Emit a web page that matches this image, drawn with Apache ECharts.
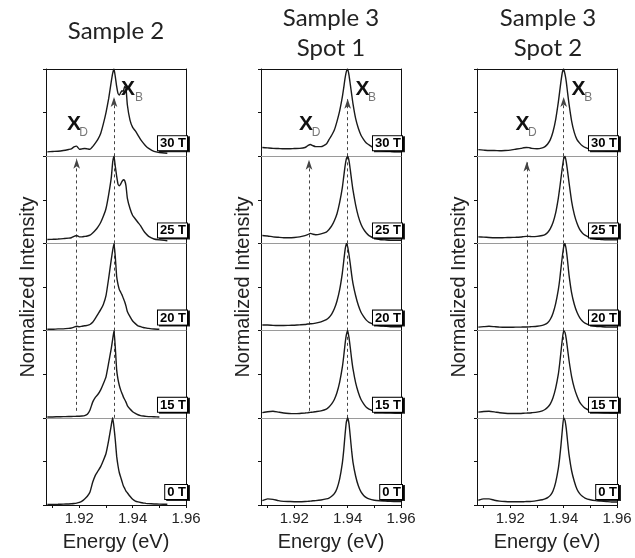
<!DOCTYPE html>
<html>
<head>
<meta charset="utf-8">
<script src="https://cdn.jsdelivr.net/npm/echarts@6/dist/echarts.min.js"></script>
<style>html,body{margin:0;padding:0;background:#fff}#c{width:635px;height:558px}</style>
</head>
<body>
<div id="c"></div>
<script>
// ---------------- DATA ----------------
const fields = ['30 T', '25 T', '20 T', '15 T', '0 T'];
const columnTitles = [['Sample 2'], ['Sample 3', 'Spot 1'], ['Sample 3', 'Spot 2']];

// Sample 2 energy grid (eV)
const energyS2 = [1.908,1.910,1.912,1.914,1.916,1.917,1.918,1.919,1.920,1.921,1.922,1.923,1.924,1.925,1.926,1.927,1.928,1.929,1.930,1.931,1.932,1.9325,1.933,1.9335,1.934,1.9345,1.935,1.9355,1.936,1.9365,1.937,1.9375,1.938,1.939,1.940,1.941,1.942,1.943,1.944,1.945,1.946,1.948,1.950,1.953];
const s2_30T = [0.05,0.054,0.057,0.065,0.077,0.084,0.107,0.115,0.08,0.084,0.088,0.084,0.08,0.11,0.15,0.195,0.26,0.37,0.50,0.66,0.86,0.95,1.0,0.91,0.80,0.72,0.70,0.73,0.75,0.745,0.80,0.78,0.59,0.414,0.33,0.29,0.24,0.19,0.15,0.115,0.09,0.055,0.042,0.034];
const s2_25T = [0.045,0.047,0.05,0.055,0.06,0.065,0.08,0.09,0.075,0.075,0.08,0.085,0.095,0.12,0.15,0.19,0.24,0.31,0.40,0.56,0.76,0.93,1.0,0.88,0.77,0.68,0.66,0.68,0.71,0.73,0.72,0.66,0.52,0.40,0.32,0.28,0.24,0.20,0.15,0.11,0.08,0.05,0.04,0.03];
const s2_20T = [0.015,0.015,0.02,0.02,0.025,0.03,0.04,0.05,0.045,0.05,0.055,0.06,0.07,0.095,0.14,0.19,0.24,0.30,0.40,0.60,0.82,0.92,1.0,0.84,0.62,0.53,0.47,0.44,0.41,0.37,0.33,0.28,0.22,0.16,0.11,0.08,0.055,0.045,0.035,0.03,0.025,0.018,0.015,null];
const s2_15T = [0.01,0.01,0.012,0.013,0.015,0.015,0.016,0.017,0.018,0.02,0.025,0.04,0.09,0.18,0.235,0.27,0.32,0.39,0.47,0.63,0.80,0.9,1.0,0.80,0.55,0.44,0.37,0.32,0.28,0.24,0.21,0.18,0.14,0.10,0.07,0.05,0.035,0.025,0.02,0.016,0.014,0.012,0.01,null];
const s2_0T = [0.006,0.007,0.008,0.01,0.012,0.014,0.017,0.022,0.03,0.045,0.07,0.10,0.15,0.26,0.34,0.39,0.44,0.51,0.59,0.74,0.92,1.0,0.89,0.74,0.56,0.45,0.37,0.32,0.27,0.22,0.19,0.16,0.14,0.10,0.065,0.045,0.035,0.028,0.023,0.019,0.016,0.012,0.01,0.008];

// Sample 3 energy grid (eV)
const energyS3 = [1.908,1.910,1.912,1.914,1.916,1.918,1.920,1.922,1.924,1.925,1.926,1.927,1.928,1.930,1.932,1.933,1.934,1.935,1.936,1.937,1.938,1.9385,1.939,1.9395,1.940,1.9405,1.941,1.9415,1.942,1.943,1.944,1.945,1.946,1.947,1.948,1.950,1.952,1.954,1.956,1.958,1.960];
// Sample 3, Spot 1
const s3a_30T = [0.10,0.095,0.09,0.088,0.085,0.085,0.088,0.09,0.10,0.12,0.135,0.12,0.11,0.11,0.14,0.19,0.24,0.30,0.40,0.52,0.68,0.78,0.89,0.97,1.0,0.93,0.82,0.71,0.6,0.43,0.32,0.24,0.19,0.15,0.13,0.09,0.07,0.06,0.055,0.05,0.05];
const s3a_25T = [0.09,0.085,0.075,0.07,0.065,0.065,0.068,0.075,0.09,0.10,0.115,0.105,0.10,0.11,0.13,0.16,0.20,0.26,0.34,0.47,0.64,0.76,0.88,0.97,1.0,0.95,0.84,0.72,0.61,0.44,0.31,0.22,0.16,0.12,0.09,0.06,0.045,0.04,0.035,0.035,0.035];
const s3a_20T = [0.065,0.065,0.06,0.058,0.058,0.06,0.062,0.066,0.07,0.075,0.078,0.08,0.085,0.10,0.125,0.15,0.19,0.25,0.34,0.47,0.66,0.79,0.92,1.0,0.96,0.87,0.76,0.64,0.54,0.40,0.29,0.21,0.16,0.12,0.095,0.07,0.055,0.05,0.045,0.045,0.045];
const s3a_15T = [0.06,0.07,0.075,0.065,0.055,0.05,0.048,0.05,0.055,0.058,0.062,0.065,0.07,0.08,0.10,0.125,0.16,0.21,0.29,0.41,0.58,0.70,0.84,0.95,1.0,0.92,0.80,0.67,0.56,0.40,0.29,0.21,0.16,0.12,0.10,0.075,0.065,0.06,0.06,0.055,0.055];
const s3a_0T = [0.05,0.07,0.065,0.05,0.042,0.04,0.038,0.038,0.04,0.042,0.045,0.048,0.05,0.058,0.07,0.08,0.10,0.13,0.19,0.30,0.48,0.62,0.80,0.95,1.0,0.93,0.78,0.62,0.49,0.33,0.22,0.15,0.11,0.085,0.07,0.055,0.048,0.045,0.042,0.04,0.04];
// Sample 3, Spot 2
const s3b_30T = [0.075,0.07,0.065,0.065,0.062,0.065,0.07,0.08,0.09,0.097,0.10,0.098,0.09,0.085,0.095,0.11,0.14,0.19,0.28,0.42,0.62,0.74,0.86,0.96,1.0,0.94,0.85,0.72,0.60,0.40,0.27,0.19,0.15,0.12,0.10,0.08,0.07,0.065,0.06,0.06,0.06];
const s3b_25T = [0.075,0.072,0.068,0.065,0.065,0.066,0.068,0.07,0.074,0.078,0.08,0.08,0.078,0.08,0.09,0.10,0.125,0.17,0.24,0.35,0.52,0.63,0.75,0.87,0.97,1.0,0.93,0.82,0.70,0.48,0.33,0.23,0.16,0.12,0.095,0.065,0.05,0.045,0.04,0.04,0.04];
const s3b_20T = [0.04,0.045,0.05,0.045,0.04,0.038,0.038,0.04,0.04,0.042,0.042,0.043,0.045,0.05,0.06,0.07,0.09,0.13,0.20,0.31,0.47,0.58,0.72,0.85,0.96,1.0,0.92,0.79,0.64,0.43,0.30,0.21,0.15,0.11,0.085,0.06,0.05,0.045,0.04,0.04,0.04];
const s3b_15T = [0.065,0.072,0.075,0.068,0.058,0.052,0.05,0.05,0.05,0.052,0.054,0.055,0.058,0.065,0.08,0.095,0.12,0.16,0.23,0.34,0.50,0.62,0.76,0.90,1.0,0.98,0.90,0.78,0.66,0.47,0.34,0.25,0.18,0.14,0.11,0.08,0.065,0.06,0.058,0.055,0.055];
const s3b_0T = [0.055,0.07,0.07,0.055,0.045,0.04,0.038,0.038,0.038,0.038,0.04,0.04,0.042,0.05,0.06,0.07,0.085,0.11,0.16,0.26,0.42,0.54,0.69,0.86,1.0,0.97,0.87,0.72,0.58,0.39,0.27,0.18,0.13,0.10,0.08,0.06,0.05,0.045,0.04,0.035,0.035];

// Marked energies (dashed guide lines): X_D and X_B
const xdEnergy = [1.919, 1.9255, 1.9262];
const xbEnergy = [1.933, 1.940, 1.940];

// Axis ticks / labels
const xMin = 1.9075, xMax = 1.96;
const xTickValues = [1.91, 1.92, 1.93, 1.94, 1.95, 1.96];
const xLabelValues = [1.92, 1.94, 1.96];

// ---------------- LAYOUT / STYLE ----------------
const columns = [
  { energy: energyS2, curves: [s2_30T, s2_25T, s2_20T, s2_15T, s2_0T] },
  { energy: energyS3, curves: [s3a_30T, s3a_25T, s3a_20T, s3a_15T, s3a_0T] },
  { energy: energyS3, curves: [s3b_30T, s3b_25T, s3b_20T, s3b_15T, s3b_0T] }
];
const L = [46, 261, 477], W = 140, T0 = 69, H = 87.2;
const FONT = 'Arial';
const peakTip = [0.68, 0.66, 0.68], xdTip = [0.97, 0.96, 0.94], xdEnd = 0.08;
// annotation offsets relative to column left: [XD X, XD sub, XB X, XB sub]
const annoX = [[28, 37.5, 82, 93], [45, 55, 101.5, 111], [45.5, 55.3, 101.5, 111.3]];
const titleX = [116, 331, 548];

const grid = [], xAxis = [], yAxis = [], series = [], graphic = [];
const dashStyle = { type: [3, 3], color: '#444', width: 1 };

columns.forEach((col, c) => {
  col.curves.forEach((vals, p) => {
    const g = grid.length;
    grid.push({ left: L[c], top: T0 + p * H, width: W, height: H, containLabel: false, outerBoundsMode: 'none' });
    const bottom = p === 4;
    const xi = xAxis.length;
    xAxis.push({
      type: 'value', gridIndex: g, position: 'bottom', min: xMin, max: xMax,
      axisLine: { show: true, onZero: false, lineStyle: { color: bottom ? '#111' : '#9a9a9a', width: 1 } },
      axisTick: { show: bottom, customValues: xTickValues, length: 3, lineStyle: { color: '#111' } },
      axisLabel: { show: bottom, customValues: xLabelValues, formatter: v => v.toFixed(2), fontSize: 15, color: '#222', fontFamily: FONT, margin: 6 },
      splitLine: { show: false },
      name: bottom ? 'Energy (eV)' : '', nameLocation: 'middle', nameGap: 27,
      nameTextStyle: { fontSize: 20, color: '#222', fontFamily: FONT }
    });
    if (p === 0) {
      xAxis.push({
        type: 'value', gridIndex: g, position: 'top', min: xMin, max: xMax,
        axisLine: { show: true, onZero: false, lineStyle: { color: '#111', width: 1 } },
        axisTick: { show: false }, axisLabel: { show: false }, splitLine: { show: false }
      });
    }
    const yi = yAxis.length;
    yAxis.push({
      type: 'value', gridIndex: g, position: 'left', min: 0, max: 1, interval: 0.5,
      axisLine: { show: true, onZero: false, lineStyle: { color: '#111', width: 1 } },
      axisTick: { show: true, length: 3, lineStyle: { color: '#111' } },
      axisLabel: { show: false }, splitLine: { show: false },
      name: p === 2 ? 'Normalized Intensity' : '', nameLocation: 'middle', nameGap: 8,
      nameTextStyle: { fontSize: 20, color: '#222', fontFamily: FONT }
    });
    yAxis.push({
      type: 'value', gridIndex: g, position: 'right', min: 0, max: 1,
      axisLine: { show: true, onZero: false, lineStyle: { color: '#111', width: 1 } },
      axisTick: { show: false }, axisLabel: { show: false }, splitLine: { show: false }
    });

    // dashed guide lines
    const xd = xdEnergy[c], xb = xbEnergy[c];
    const arrowEnd = (x, y) => ({ coord: [x, y], symbol: 'arrow', symbolSize: [5, 10] });
    let ml = [];
    if (p === 0) ml = [[{ coord: [xb, 0] }, arrowEnd(xb, peakTip[c])]];
    if (p === 1) ml = [[{ coord: [xd, 0] }, arrowEnd(xd, xdTip[c])], [{ coord: [xb, 0] }, { coord: [xb, 1] }]];
    if (p === 2) ml = [[{ coord: [xd, 0] }, { coord: [xd, 1] }], [{ coord: [xb, 0] }, { coord: [xb, 1] }]];
    if (p === 3) ml = [[{ coord: [xd, xdEnd] }, { coord: [xd, 1] }], [{ coord: [xb, 0] }, { coord: [xb, 1] }]];

    series.push({
      type: 'line', xAxisIndex: xi, yAxisIndex: yi,
      data: col.energy.map((e, i) => [e, vals[i]]).filter(d => d[1] !== null),
      showSymbol: false, symbol: 'none', smooth: 0.15,
      lineStyle: { color: '#1a1a1a', width: 1.4 },
      z: 3,
      markLine: ml.length ? {
        silent: true, symbol: ['none', 'none'], label: { show: false },
        lineStyle: dashStyle, emphasis: { disabled: true }, animation: false,
        data: ml, z: 2
      } : undefined
    });

    // field label box
    graphic.push({
      type: 'text', z: 100,
      x: L[c] + W + 1, y: T0 + (p + 1) * H - 6,
      style: {
        text: fields[p], font: 'bold 13px Arial', fill: '#000',
        align: 'right', verticalAlign: 'bottom',
        backgroundColor: '#fff', borderColor: '#000', borderWidth: 1,
        padding: [1, 1, 0, 2],
        shadowColor: 'rgba(0,0,0,0.85)', shadowOffsetX: 2, shadowOffsetY: 1, shadowBlur: 0
      }
    });
  });

  // X_D / X_B annotations
  const a = annoX[c];
  graphic.push(
    { type: 'text', z: 100, x: L[c] + a[0], y: 124, style: { text: 'X', font: 'bold 21px Arial', fill: '#111', align: 'center', verticalAlign: 'middle' } },
    { type: 'text', z: 100, x: L[c] + a[1], y: 133, style: { text: 'D', font: '12px Arial', fill: '#777', align: 'center', verticalAlign: 'middle' } },
    { type: 'text', z: 100, x: L[c] + a[2], y: 89, style: { text: 'X', font: 'bold 21px Arial', fill: '#111', align: 'center', verticalAlign: 'middle' } },
    { type: 'text', z: 100, x: L[c] + a[3], y: 98, style: { text: 'B', font: '12px Arial', fill: '#777', align: 'center', verticalAlign: 'middle' } }
  );

  // column title
  const lines = columnTitles[c];
  lines.forEach((t, k) => {
    graphic.push({
      type: 'text', z: 100, x: titleX[c],
      y: lines.length === 1 ? 31 : (k === 0 ? 18 : 48),
      style: { text: t, font: '24px Lato', fill: '#222', align: 'center', verticalAlign: 'middle' }
    });
  });
});

const chart = echarts.init(document.getElementById('c'), null, { renderer: 'canvas' });
chart.setOption({
  animation: false,
  backgroundColor: '#fff',
  grid, xAxis, yAxis, series, graphic
});
</script>
</body>
</html>
